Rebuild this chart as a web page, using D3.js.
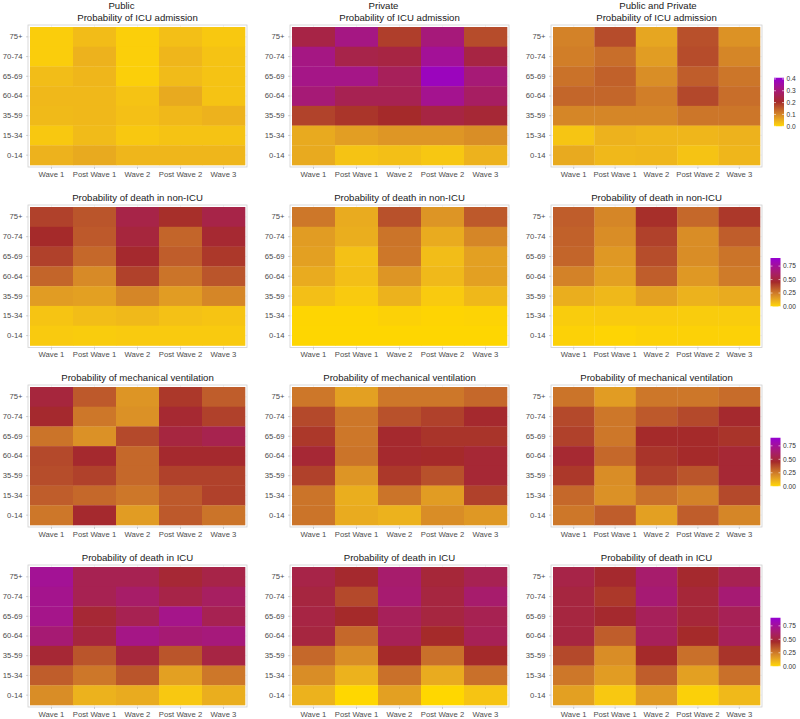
<!DOCTYPE html>
<html>
<head>
<meta charset="utf-8">
<script src="https://cdn.jsdelivr.net/npm/d3@7"></script>
<style>
  html, body { margin: 0; padding: 0; background: #fff; }
  svg { display: block; font-family: "Liberation Sans", Arial, Helvetica, sans-serif; }
</style>
</head>
<body>
<svg id="chart" width="800" height="719"></svg>
<script>
// ---------------- DATA ----------------
const ageGroups = ["75+", "70-74", "65-69", "60-64", "35-59", "15-34", "0-14"];
const periods = ["Wave 1", "Post Wave 1", "Wave 2", "Post Wave 2", "Wave 3"];
const sectors = ["Public", "Private", "Public and Private"];
const outcomes = [
  "Probability of ICU admission",
  "Probability of death in non-ICU",
  "Probability of mechanical ventilation",
  "Probability of death in ICU"
];
const legendMax = [0.41, 0.9, 0.9, 0.9];
const legendTicksIcu = [0, 0.1, 0.2, 0.3, 0.4];
const legendTicksOther = [0, 0.25, 0.5, 0.75];

// rows: age groups (75+ ... 0-14); columns: periods (Wave 1 ... Wave 3)
const icuPublic = [
  [0.012, 0.033, 0.010, 0.030, 0.018],
  [0.012, 0.045, 0.010, 0.040, 0.025],
  [0.032, 0.040, 0.010, 0.035, 0.024],
  [0.038, 0.038, 0.025, 0.055, 0.024],
  [0.036, 0.038, 0.028, 0.038, 0.045],
  [0.018, 0.035, 0.018, 0.025, 0.025],
  [0.045, 0.055, 0.040, 0.040, 0.040]
];
const icuPrivate = [
  [0.240, 0.315, 0.185, 0.305, 0.170],
  [0.315, 0.245, 0.235, 0.340, 0.235],
  [0.320, 0.320, 0.265, 0.385, 0.300],
  [0.300, 0.255, 0.255, 0.330, 0.275],
  [0.180, 0.195, 0.205, 0.235, 0.220],
  [0.055, 0.070, 0.080, 0.080, 0.090],
  [0.055, 0.025, 0.030, 0.020, 0.045]
];
const icuBoth = [
  [0.105, 0.170, 0.060, 0.165, 0.085],
  [0.110, 0.130, 0.072, 0.170, 0.100],
  [0.125, 0.145, 0.090, 0.150, 0.120],
  [0.140, 0.140, 0.110, 0.175, 0.130],
  [0.100, 0.100, 0.100, 0.120, 0.120],
  [0.022, 0.045, 0.040, 0.040, 0.045],
  [0.055, 0.038, 0.040, 0.025, 0.040]
];
const nonIcuDeathPublic = [
  [0.40, 0.35, 0.53, 0.44, 0.53],
  [0.45, 0.34, 0.50, 0.31, 0.47],
  [0.40, 0.30, 0.46, 0.33, 0.42],
  [0.31, 0.21, 0.40, 0.27, 0.35],
  [0.16, 0.15, 0.22, 0.16, 0.22],
  [0.05, 0.07, 0.08, 0.06, 0.05],
  [0.035, 0.03, 0.035, 0.035, 0.035]
];
const nonIcuDeathPrivate = [
  [0.26, 0.12, 0.36, 0.18, 0.34],
  [0.16, 0.11, 0.27, 0.12, 0.22],
  [0.15, 0.06, 0.26, 0.07, 0.15],
  [0.12, 0.065, 0.18, 0.08, 0.15],
  [0.065, 0.035, 0.10, 0.035, 0.085],
  [0.005, 0.005, 0.015, 0.007, 0.010],
  [0.003, 0.003, 0.003, 0.003, 0.003]
];
const nonIcuDeathBoth = [
  [0.33, 0.22, 0.44, 0.30, 0.42],
  [0.32, 0.20, 0.40, 0.20, 0.33],
  [0.31, 0.17, 0.37, 0.20, 0.27],
  [0.23, 0.15, 0.33, 0.17, 0.25],
  [0.11, 0.085, 0.15, 0.10, 0.12],
  [0.03, 0.035, 0.035, 0.03, 0.03],
  [0.015, 0.008, 0.015, 0.015, 0.015]
];
const ventPublic = [
  [0.50, 0.34, 0.18, 0.42, 0.33],
  [0.46, 0.26, 0.19, 0.47, 0.40],
  [0.27, 0.19, 0.38, 0.51, 0.55],
  [0.38, 0.46, 0.30, 0.46, 0.46],
  [0.37, 0.40, 0.30, 0.40, 0.40],
  [0.33, 0.30, 0.26, 0.34, 0.40],
  [0.26, 0.46, 0.16, 0.34, 0.27]
];
const ventPrivate = [
  [0.26, 0.15, 0.26, 0.26, 0.30],
  [0.38, 0.26, 0.36, 0.40, 0.46],
  [0.42, 0.26, 0.46, 0.43, 0.43],
  [0.48, 0.27, 0.46, 0.45, 0.48],
  [0.40, 0.18, 0.42, 0.36, 0.48],
  [0.27, 0.11, 0.27, 0.16, 0.40],
  [0.27, 0.12, 0.10, 0.20, 0.17]
];
const ventBoth = [
  [0.27, 0.16, 0.26, 0.26, 0.29],
  [0.38, 0.26, 0.34, 0.38, 0.46],
  [0.40, 0.26, 0.45, 0.45, 0.43],
  [0.47, 0.30, 0.43, 0.45, 0.48],
  [0.42, 0.20, 0.40, 0.35, 0.48],
  [0.30, 0.19, 0.28, 0.23, 0.38],
  [0.26, 0.33, 0.15, 0.33, 0.22]
];
const icuDeathPublic = [
  [0.74, 0.56, 0.56, 0.48, 0.53],
  [0.72, 0.56, 0.62, 0.53, 0.60],
  [0.71, 0.48, 0.56, 0.71, 0.56],
  [0.65, 0.50, 0.70, 0.65, 0.67],
  [0.48, 0.35, 0.50, 0.35, 0.52],
  [0.33, 0.26, 0.35, 0.15, 0.26],
  [0.20, 0.10, 0.12, 0.04, 0.11]
];
const icuDeathPrivate = [
  [0.53, 0.46, 0.63, 0.49, 0.56],
  [0.51, 0.38, 0.64, 0.51, 0.63],
  [0.52, 0.45, 0.58, 0.51, 0.56],
  [0.51, 0.30, 0.57, 0.45, 0.57],
  [0.30, 0.20, 0.45, 0.28, 0.45],
  [0.20, 0.10, 0.28, 0.12, 0.28],
  [0.10, 0.00, 0.15, 0.00, 0.05]
];
const icuDeathBoth = [
  [0.53, 0.46, 0.63, 0.46, 0.56],
  [0.51, 0.42, 0.65, 0.49, 0.65],
  [0.51, 0.46, 0.58, 0.49, 0.57],
  [0.51, 0.33, 0.58, 0.45, 0.58],
  [0.38, 0.20, 0.45, 0.28, 0.43],
  [0.26, 0.16, 0.33, 0.15, 0.28],
  [0.15, 0.04, 0.17, 0.02, 0.08]
];

const panels = [
  [icuPublic, icuPrivate, icuBoth],
  [nonIcuDeathPublic, nonIcuDeathPrivate, nonIcuDeathBoth],
  [ventPublic, ventPrivate, ventBoth],
  [icuDeathPublic, icuDeathPrivate, icuDeathBoth]
];

// ---------------- LAYOUT ----------------
const svg = d3.select("#chart");
const colX = [[30, 245], [292, 507], [553, 760]];
const rowY = [[27, 165], [207, 345.5], [387, 525], [567, 705]];
const firstLineShift = [-16, -16, 1.5];
const tickFont = 7.7, titleFont = 9.6;

function colorScale(max) {
  return d3.scaleLinear()
    .domain([0, max / 2, max])
    .range(["#FFD700", "#A52A2A", "#9400D3"])
    .interpolate(d3.interpolateLab)
    .clamp(true);
}

panels.forEach((rowPanels, r) => {
  const color = colorScale(legendMax[r]);
  const [y0, y1] = rowY[r];
  rowPanels.forEach((values, c) => {
    const [x0, x1] = colX[c];
    const x = d3.scaleBand().domain(periods).range([x0, x1]);
    const y = d3.scaleBand().domain(ageGroups).range([y0, y1]);
    const g = svg.append("g");
    const pad = 2;

    // gridlines (only visible in the panel margins)
    g.selectAll("line.gx").data(periods).join("line")
      .attr("x1", d => x(d) + x.bandwidth() / 2).attr("x2", d => x(d) + x.bandwidth() / 2)
      .attr("y1", y0 - pad).attr("y2", y1 + pad)
      .attr("stroke", "#ebebeb").attr("stroke-width", 0.6);
    g.selectAll("line.gy").data(ageGroups).join("line")
      .attr("y1", d => y(d) + y.bandwidth() / 2).attr("y2", d => y(d) + y.bandwidth() / 2)
      .attr("x1", x0 - pad).attr("x2", x1 + pad)
      .attr("stroke", "#ebebeb").attr("stroke-width", 0.6);

    const cells = [];
    ageGroups.forEach((a, i) => periods.forEach((p, j) => cells.push({ a, p, v: values[i][j] })));
    g.selectAll("rect.cell").data(cells).join("rect")
      .attr("x", d => x(d.p)).attr("y", d => y(d.a))
      .attr("width", x.bandwidth() + 0.3).attr("height", y.bandwidth() + 0.3)
      .attr("fill", d => color(d.v));

    g.append("rect")
      .attr("x", x0 - pad).attr("y", y0 - pad)
      .attr("width", x1 - x0 + 2 * pad).attr("height", y1 - y0 + 2 * pad)
      .attr("fill", "none").attr("stroke", "#d0d0d0").attr("stroke-width", 0.8);

    // axes
    const yAxis = g.append("g").attr("transform", `translate(${x0 - pad},0)`)
      .call(d3.axisLeft(y).tickSize(2).tickPadding(3.5));
    const xAxis = g.append("g").attr("transform", `translate(0,${y1 + pad})`)
      .call(d3.axisBottom(x).tickSize(2).tickPadding(2.5));
    [yAxis, xAxis].forEach(ax => {
      ax.select(".domain").remove();
      ax.selectAll(".tick line").attr("stroke", "#b3b3b3").attr("stroke-width", 0.6);
      ax.selectAll(".tick text").attr("fill", "#4d4d4d")
        .style("font-size", tickFont + "px")
        .style("font-family", '"Liberation Sans", Arial, sans-serif');
    });

    // title
    const cx = (x0 + x1) / 2;
    g.append("text").attr("x", cx).attr("y", y0 - 6.5)
      .attr("text-anchor", "middle").attr("fill", "#1a1a1a")
      .style("font-size", titleFont + "px").text(outcomes[r]);
    if (r === 0) {
      g.append("text").attr("x", cx + firstLineShift[c]).attr("y", y0 - 18)
        .attr("text-anchor", "middle").attr("fill", "#1a1a1a")
        .style("font-size", titleFont + "px").text(sectors[c]);
    }
  });

  // legend
  const lgH = 48.5, lgW = 10;
  const lgX = r === 0 ? 774 : 770.5;
  const lgY0 = (y0 + y1) / 2 + 6 - lgH / 2;
  const ls = d3.scaleLinear().domain([0, legendMax[r]]).range([lgY0 + lgH, lgY0]);
  const gradId = "grad" + r;
  const grad = svg.append("defs").append("linearGradient").attr("id", gradId)
    .attr("x1", 0).attr("x2", 0).attr("y1", 1).attr("y2", 0);
  d3.range(0, 1.0001, 0.05).forEach(t => {
    grad.append("stop").attr("offset", t).attr("stop-color", color(t * legendMax[r]));
  });
  const lg = svg.append("g");
  lg.append("rect").attr("x", lgX).attr("y", lgY0).attr("width", lgW).attr("height", lgH)
    .attr("fill", `url(#${gradId})`);
  const ticks = r === 0 ? legendTicksIcu : legendTicksOther;
  const fmt = r === 0 ? d3.format(".1f") : d3.format(".2f");
  ticks.forEach(t => {
    lg.append("line").attr("x1", lgX).attr("x2", lgX + 2).attr("y1", ls(t)).attr("y2", ls(t))
      .attr("stroke", "#fff").attr("stroke-width", 0.6);
    lg.append("line").attr("x1", lgX + lgW - 2).attr("x2", lgX + lgW).attr("y1", ls(t)).attr("y2", ls(t))
      .attr("stroke", "#fff").attr("stroke-width", 0.6);
    lg.append("text").attr("x", lgX + lgW + 2.5).attr("y", ls(t)).attr("dy", "0.35em")
      .attr("fill", "#333").style("font-size", "6.6px").text(fmt(t));
  });
});
</script>
</body>
</html>
